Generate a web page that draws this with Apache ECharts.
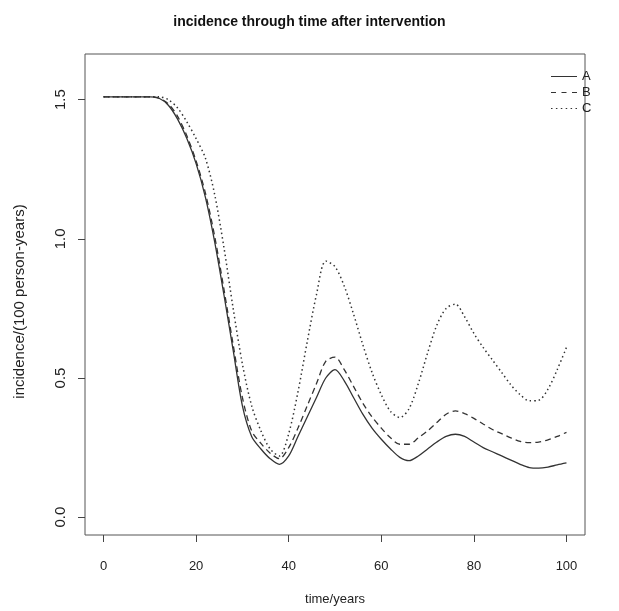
<!DOCTYPE html>
<html>
<head>
<meta charset="utf-8">
<script src="https://cdn.jsdelivr.net/npm/echarts@6/dist/echarts.min.js"></script>
<style>html,body{margin:0;padding:0;background:#fff;}#chart{width:619px;height:611px;}</style>
</head>
<body>
<div id="chart"></div>
<script>
const years = [0,2,4,6,8,10,12,14,16,18,20,22,24,26,28,30,32,34,36,38,40,42,44,46,48,50,52,54,56,58,60,62,64,66,68,70,72,74,76,78,80,82,84,86,88,90,92,94,96,98,100];
const seriesA = [1.51,1.51,1.51,1.51,1.51,1.51,1.505,1.48,1.43,1.36,1.27,1.15,0.99,0.80,0.60,0.40,0.29,0.245,0.21,0.19,0.22,0.29,0.36,0.43,0.50,0.53,0.49,0.43,0.37,0.32,0.28,0.245,0.215,0.203,0.22,0.245,0.27,0.29,0.298,0.29,0.27,0.25,0.235,0.22,0.205,0.19,0.178,0.176,0.18,0.188,0.195];
const seriesB = [1.51,1.51,1.51,1.51,1.51,1.51,1.505,1.485,1.44,1.37,1.28,1.165,1.01,0.82,0.62,0.43,0.31,0.265,0.23,0.21,0.25,0.32,0.40,0.48,0.56,0.575,0.53,0.47,0.41,0.36,0.32,0.285,0.262,0.262,0.285,0.31,0.34,0.37,0.382,0.372,0.355,0.335,0.315,0.30,0.285,0.272,0.268,0.27,0.278,0.29,0.305];
const seriesC = [1.51,1.51,1.51,1.51,1.51,1.51,1.51,1.50,1.47,1.42,1.36,1.29,1.16,0.97,0.75,0.55,0.40,0.31,0.245,0.22,0.30,0.45,0.63,0.80,0.92,0.90,0.83,0.73,0.62,0.52,0.44,0.38,0.358,0.39,0.48,0.59,0.69,0.75,0.765,0.72,0.66,0.61,0.565,0.52,0.475,0.44,0.418,0.42,0.46,0.53,0.61];
const seriesNames = ['A','B','C'];
const xTicks = [0,20,40,60,80,100];
const yTicks = [0,0.5,1.0,1.5];

const FONT = 'Liberation Sans, Arial, Helvetica, sans-serif';
const chart = echarts.init(document.getElementById('chart'), null, {renderer:'canvas'});
function pairs(vals){ return years.map((t,i)=>[t, vals[i]]); }
const styles = [
  {type:'solid', width:1.3},
  {type:[6,4], width:1.3},
  {type:[1.5,3], width:1.5}
];
const icons = [
  'path://M0,0h26v1h-26z',
  'path://M0,0h5v1h-5z M10.5,0h5v1h-5z M21,0h5v1h-5z',
  'path://M0,0h1.5v1h-1.5z M4.9,0h1.5v1h-1.5z M9.8,0h1.5v1h-1.5z M14.7,0h1.5v1h-1.5z M19.6,0h1.5v1h-1.5z M24.5,0h1.5v1h-1.5z'
];
const allVals = [seriesA, seriesB, seriesC];
chart.setOption({
  animation:false,
  backgroundColor:'#ffffff',
  title:{
    text:'incidence through time after intervention',
    left:'center', top:10,
    textStyle:{fontFamily:FONT, fontWeight:'bold', fontSize:14, color:'#111'}
  },
  legend:{
    data:seriesNames.map((n,i)=>({name:n, icon:icons[i]})),
    orient:'vertical',
    left:546, top:65,
    itemWidth:26, itemHeight:1.4, itemGap:3,
    itemStyle:{color:'#333'},
    textStyle:{fontFamily:FONT, fontSize:13, color:'#222'}
  },
  grid:{left:85, top:54, width:500, height:484, show:true, borderColor:'#555', borderWidth:1, containLabel:false},
  xAxis:{
    type:'value', min:-4, max:104,
    axisLine:{show:false, onZero:false},
    splitLine:{show:false},
    axisTick:{show:true, customValues:xTicks, length:7, lineStyle:{color:'#444'}},
    axisLabel:{customValues:xTicks, margin:25, fontFamily:FONT, fontSize:13, color:'#222'},
    name:'time/years', nameLocation:'middle', nameGap:58,
    nameTextStyle:{fontFamily:FONT, fontSize:13, color:'#222'}
  },
  yAxis:{
    type:'value', min:-0.064, max:1.664,
    axisLine:{show:false, onZero:false},
    splitLine:{show:false},
    axisTick:{show:true, customValues:yTicks, length:7, lineStyle:{color:'#444'}},
    axisLabel:{customValues:yTicks, rotate:90, margin:17, fontFamily:FONT, fontSize:15, color:'#222',
      formatter:v=>Number(v).toFixed(1)},
    name:'incidence/(100 person-years)', nameLocation:'middle', nameGap:58, nameRotate:90,
    nameTextStyle:{fontFamily:FONT, fontSize:15, color:'#222', padding:[0,14,0,0]}
  },
  series: seriesNames.map((n,i)=>({
    name:n, type:'line', data:pairs(allVals[i]), symbol:'none', showSymbol:false, smooth:0.3,
    lineStyle:{color:'#333', width:styles[i].width, type:styles[i].type},
    itemStyle:{color:'#333'}
  }))
});
</script>
</body>
</html>
